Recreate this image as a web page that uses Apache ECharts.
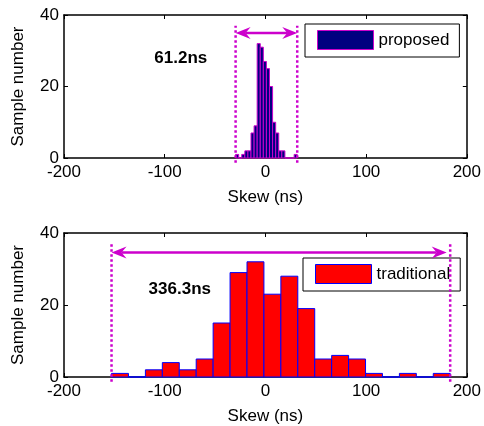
<!DOCTYPE html>
<html>
<head>
<meta charset="utf-8">
<title>Skew histograms</title>
<script src="https://cdn.jsdelivr.net/npm/echarts@6/dist/echarts.min.js"></script>
<style>
  html, body { margin: 0; padding: 0; background: #fff; }
  #main { width: 484px; height: 426px; }
</style>
</head>
<body>
<div id="main"></div>
<script>
// histogram counts, 20 bins each
var proposedStart = -29.6;
var proposedBinWidth = 3.06;
var proposedCounts = [1, 0, 1, 2, 2, 7, 9, 32, 31, 27, 25, 20, 10, 7, 2, 2, 0, 0, 0, 1];

var traditionalStart = -152.8;
var traditionalBinWidth = 16.815;
var traditionalCounts = [1, 0, 2, 4, 2, 5, 15, 29, 32, 23, 28, 19, 5, 6, 5, 1, 0, 1, 0, 1];

var xTicks = [-200, -100, 0, 100, 200];
var yTicks = [0, 20, 40];

// range markers (dotted guides, arrow, label)
var proposedGuides = [-29.6, 31.6];
var proposedArrow = [-29.6, 31.6, 35];
var proposedLabel = ['61.2ns', -84, 28];

var traditionalGuides = [-152.8, 183.5];
var traditionalArrow = [-152.8, 180, 34.6];
var traditionalLabel = ['336.3ns', -85, 24.4];

var guideSpan = [-1.3, 37];

var FONT = '"Liberation Sans", Arial, Helvetica, sans-serif';
var MAGENTA = '#cc00cc';

function toBins(start, w, counts) {
    return counts.map(function (c, i) {
        return [start + i * w, start + (i + 1) * w, c];
    });
}

function barRenderer(fill, stroke) {
    return function (params, api) {
        var top = api.coord([api.value(0), api.value(2)]);
        var base = api.coord([api.value(1), 0]);
        return {
            type: 'rect',
            shape: { x: top[0], y: top[1], width: base[0] - top[0], height: base[1] - top[1] },
            style: { fill: fill, stroke: stroke, lineWidth: 1 }
        };
    };
}

function renderGuide(params, api) {
    var a = api.coord([api.value(0), api.value(1)]);
    var b = api.coord([api.value(0), api.value(2)]);
    return {
        type: 'line',
        shape: { x1: a[0], y1: a[1], x2: b[0], y2: b[1] },
        style: { stroke: MAGENTA, lineWidth: 2.5, lineDash: [2.5, 2.5] }
    };
}

function renderArrow(params, api) {
    var a = api.coord([api.value(0), api.value(2)]);
    var b = api.coord([api.value(1), api.value(2)]);
    var L = 15, H = 6, N = 10, y = a[1];
    return {
        type: 'group',
        children: [
            { type: 'line', shape: { x1: a[0] + N, y1: y, x2: b[0] - N, y2: y },
              style: { stroke: MAGENTA, lineWidth: 2.5 } },
            { type: 'polygon', shape: { points: [[a[0], y], [a[0] + L, y - H], [a[0] + N, y], [a[0] + L, y + H]] },
              style: { fill: MAGENTA } },
            { type: 'polygon', shape: { points: [[b[0], y], [b[0] - L, y - H], [b[0] - N, y], [b[0] - L, y + H]] },
              style: { fill: MAGENTA } }
        ]
    };
}

function labelRenderer(text) {
    return function (params, api) {
        var p = api.coord([api.value(0), api.value(1)]);
        return {
            type: 'text',
            style: { text: text, x: p[0], y: p[1], fill: '#000', font: 'bold 17px ' + FONT,
                     align: 'center', verticalAlign: 'middle' }
        };
    };
}

function xAxisFor(g, pos) {
    return {
        type: 'value', gridIndex: g, position: pos, min: -200, max: 200, interval: 100,
        axisLine: { onZero: false, lineStyle: { color: '#000', width: 1.5 } },
        axisTick: { inside: true, length: 4, customValues: xTicks, lineStyle: { color: '#000' } },
        axisLabel: { show: pos === 'bottom', customValues: xTicks, color: '#000', fontSize: 17, fontFamily: FONT, margin: 6 },
        splitLine: { show: false },
        name: pos === 'bottom' ? 'Skew (ns)' : '',
        nameLocation: 'middle', nameGap: 31,
        nameTextStyle: { color: '#000', fontSize: 17, fontFamily: FONT }
    };
}

function yAxisFor(g, pos) {
    return {
        type: 'value', gridIndex: g, position: pos, min: 0, max: 40, interval: 20,
        axisLine: { onZero: false, lineStyle: { color: '#000', width: 1.5 } },
        axisTick: { inside: true, length: 4, customValues: yTicks, lineStyle: { color: '#000' } },
        axisLabel: { show: pos === 'left', customValues: yTicks, color: '#000', fontSize: 17, fontFamily: FONT, margin: 5 },
        splitLine: { show: false },
        name: pos === 'left' ? 'Sample number' : '',
        nameLocation: 'middle', nameGap: 37, nameRotate: 90,
        nameTextStyle: { color: '#000', fontSize: 17, fontFamily: FONT }
    };
}

function legendFor(name, top, left, fill, stroke) {
    return {
        data: [name], left: left, top: top, orient: 'vertical',
        padding: [6, 10, 7, 12], itemWidth: 56, itemHeight: 19, itemGap: 0,
        borderColor: '#000', borderWidth: 1, backgroundColor: '#fff',
        icon: 'rect', selectedMode: false,
        itemStyle: { color: fill, borderColor: stroke, borderWidth: 1 },
        textStyle: { color: '#000', fontSize: 17, fontFamily: FONT }
    };
}

var myChart = echarts.init(document.getElementById('main'), null, { renderer: 'canvas' });

var option = {
    animation: false,
    backgroundColor: '#fff',
    grid: [
        { left: 64, top: 15, width: 403, height: 143 },
        { left: 64, top: 233, width: 403, height: 144 }
    ],
    xAxis: [xAxisFor(0, 'bottom'), xAxisFor(0, 'top'), xAxisFor(1, 'bottom'), xAxisFor(1, 'top')],
    yAxis: [yAxisFor(0, 'left'), yAxisFor(0, 'right'), yAxisFor(1, 'left'), yAxisFor(1, 'right')],
    legend: [
        legendFor('proposed', 24, 305, '#000080', MAGENTA),
        legendFor('traditional', 258, 303, '#ff0000', '#0000ff')
    ],
    series: [
        {
            name: 'proposed', type: 'custom', xAxisIndex: 0, yAxisIndex: 0, z: 3,
            itemStyle: { color: '#000080', borderColor: MAGENTA, borderWidth: 1 },
            renderItem: barRenderer('#000080', MAGENTA),
            data: toBins(proposedStart, proposedBinWidth, proposedCounts)
        },
        {
            name: 'traditional', type: 'custom', xAxisIndex: 2, yAxisIndex: 2, z: 3,
            itemStyle: { color: '#ff0000', borderColor: '#0000ff', borderWidth: 1 },
            renderItem: barRenderer('#ff0000', '#0000ff'),
            data: toBins(traditionalStart, traditionalBinWidth, traditionalCounts)
        },
        {
            type: 'custom', xAxisIndex: 0, yAxisIndex: 0, z: 4, renderItem: renderGuide,
            data: proposedGuides.map(function (x) { return [x, guideSpan[0], guideSpan[1]]; })
        },
        {
            type: 'custom', xAxisIndex: 2, yAxisIndex: 2, z: 4, renderItem: renderGuide,
            data: traditionalGuides.map(function (x) { return [x, guideSpan[0], guideSpan[1]]; })
        },
        {
            type: 'custom', xAxisIndex: 0, yAxisIndex: 0, z: 4, renderItem: renderArrow,
            data: [proposedArrow]
        },
        {
            type: 'custom', xAxisIndex: 2, yAxisIndex: 2, z: 4, renderItem: renderArrow,
            data: [traditionalArrow]
        },
        {
            type: 'custom', xAxisIndex: 0, yAxisIndex: 0, z: 4, renderItem: labelRenderer(proposedLabel[0]),
            data: [[proposedLabel[1], proposedLabel[2]]]
        },
        {
            type: 'custom', xAxisIndex: 2, yAxisIndex: 2, z: 4, renderItem: labelRenderer(traditionalLabel[0]),
            data: [[traditionalLabel[1], traditionalLabel[2]]]
        }
    ]
};

myChart.setOption(option);
</script>
</body>
</html>
